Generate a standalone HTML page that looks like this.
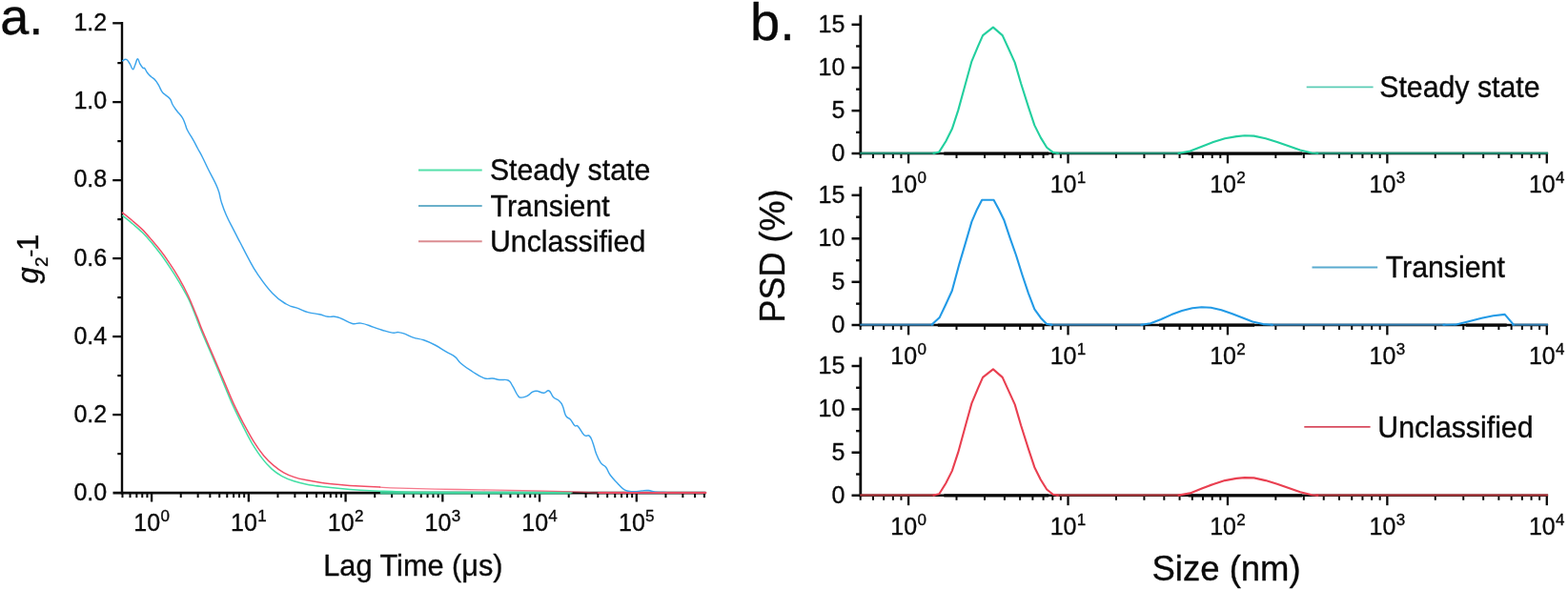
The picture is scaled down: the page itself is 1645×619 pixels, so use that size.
<!DOCTYPE html>
<html lang="en">
<head>
<meta charset="utf-8">
<title>DLS correlation and PSD</title>
<style>
html,body{margin:0;padding:0;background:#fff;}
body{width:1645px;height:619px;overflow:hidden;}
svg{display:block;}
</style>
</head>
<body>
<svg width="1645" height="619" viewBox="0 0 1645 619" font-family='"Liberation Sans", Arial, Helvetica, sans-serif' fill="#0a0a0a">
<style>text{stroke:#0a0a0a;stroke-width:0.35px;stroke-linejoin:round}</style>
<rect x="0" y="0" width="1645" height="619" fill="#ffffff"/>
<g id="panelA">
<line x1="128.00" y1="23.10" x2="128.00" y2="518.40" stroke="#0a0a0a" stroke-width="2.4" />
<line x1="118.50" y1="517.10" x2="740.50" y2="517.10" stroke="#0a0a0a" stroke-width="2.6" />
<text transform="translate(112.20,524.90) scale(1,1.04)" font-size="25.0" text-anchor="end" >0.0</text>
<line x1="123.30" y1="476.10" x2="128.00" y2="476.10" stroke="#0a0a0a" stroke-width="2.2" />
<line x1="118.20" y1="435.10" x2="128.00" y2="435.10" stroke="#0a0a0a" stroke-width="2.3" />
<text transform="translate(112.20,442.77) scale(1,1.04)" font-size="25.0" text-anchor="end" >0.2</text>
<line x1="123.30" y1="394.10" x2="128.00" y2="394.10" stroke="#0a0a0a" stroke-width="2.2" />
<line x1="118.20" y1="353.10" x2="128.00" y2="353.10" stroke="#0a0a0a" stroke-width="2.3" />
<text transform="translate(112.20,360.63) scale(1,1.04)" font-size="25.0" text-anchor="end" >0.4</text>
<line x1="123.30" y1="312.10" x2="128.00" y2="312.10" stroke="#0a0a0a" stroke-width="2.2" />
<line x1="118.20" y1="271.10" x2="128.00" y2="271.10" stroke="#0a0a0a" stroke-width="2.3" />
<text transform="translate(112.20,278.50) scale(1,1.04)" font-size="25.0" text-anchor="end" >0.6</text>
<line x1="123.30" y1="230.10" x2="128.00" y2="230.10" stroke="#0a0a0a" stroke-width="2.2" />
<line x1="118.20" y1="189.10" x2="128.00" y2="189.10" stroke="#0a0a0a" stroke-width="2.3" />
<text transform="translate(112.20,196.36) scale(1,1.04)" font-size="25.0" text-anchor="end" >0.8</text>
<line x1="123.30" y1="148.10" x2="128.00" y2="148.10" stroke="#0a0a0a" stroke-width="2.2" />
<line x1="118.20" y1="107.10" x2="128.00" y2="107.10" stroke="#0a0a0a" stroke-width="2.3" />
<text transform="translate(112.20,114.23) scale(1,1.04)" font-size="25.0" text-anchor="end" >1.0</text>
<line x1="123.30" y1="66.10" x2="128.00" y2="66.10" stroke="#0a0a0a" stroke-width="2.2" />
<line x1="118.20" y1="24.30" x2="128.00" y2="24.30" stroke="#0a0a0a" stroke-width="2.3" />
<text transform="translate(112.20,32.10) scale(1,1.04)" font-size="25.0" text-anchor="end" >1.2</text>
<line x1="128.47" y1="517.10" x2="128.47" y2="522.10" stroke="#0a0a0a" stroke-width="2.0" />
<line x1="136.53" y1="517.10" x2="136.53" y2="522.10" stroke="#0a0a0a" stroke-width="2.0" />
<line x1="143.34" y1="517.10" x2="143.34" y2="522.10" stroke="#0a0a0a" stroke-width="2.0" />
<line x1="149.24" y1="517.10" x2="149.24" y2="522.10" stroke="#0a0a0a" stroke-width="2.0" />
<line x1="154.44" y1="517.10" x2="154.44" y2="522.10" stroke="#0a0a0a" stroke-width="2.0" />
<line x1="159.10" y1="517.10" x2="159.10" y2="526.50" stroke="#0a0a0a" stroke-width="2.3" />
<text x="140.30" y="557.40" font-size="25.0">10<tspan font-size="17" dy="-10.0" dx="0.3">0</tspan></text>
<line x1="189.73" y1="517.10" x2="189.73" y2="522.10" stroke="#0a0a0a" stroke-width="2.0" />
<line x1="207.64" y1="517.10" x2="207.64" y2="522.10" stroke="#0a0a0a" stroke-width="2.0" />
<line x1="220.35" y1="517.10" x2="220.35" y2="522.10" stroke="#0a0a0a" stroke-width="2.0" />
<line x1="230.21" y1="517.10" x2="230.21" y2="522.10" stroke="#0a0a0a" stroke-width="2.0" />
<line x1="238.27" y1="517.10" x2="238.27" y2="522.10" stroke="#0a0a0a" stroke-width="2.0" />
<line x1="245.08" y1="517.10" x2="245.08" y2="522.10" stroke="#0a0a0a" stroke-width="2.0" />
<line x1="250.98" y1="517.10" x2="250.98" y2="522.10" stroke="#0a0a0a" stroke-width="2.0" />
<line x1="256.18" y1="517.10" x2="256.18" y2="522.10" stroke="#0a0a0a" stroke-width="2.0" />
<line x1="260.84" y1="517.10" x2="260.84" y2="526.50" stroke="#0a0a0a" stroke-width="2.3" />
<text x="242.04" y="557.40" font-size="25.0">10<tspan font-size="17" dy="-10.0" dx="0.3">1</tspan></text>
<line x1="291.47" y1="517.10" x2="291.47" y2="522.10" stroke="#0a0a0a" stroke-width="2.0" />
<line x1="309.38" y1="517.10" x2="309.38" y2="522.10" stroke="#0a0a0a" stroke-width="2.0" />
<line x1="322.09" y1="517.10" x2="322.09" y2="522.10" stroke="#0a0a0a" stroke-width="2.0" />
<line x1="331.95" y1="517.10" x2="331.95" y2="522.10" stroke="#0a0a0a" stroke-width="2.0" />
<line x1="340.01" y1="517.10" x2="340.01" y2="522.10" stroke="#0a0a0a" stroke-width="2.0" />
<line x1="346.82" y1="517.10" x2="346.82" y2="522.10" stroke="#0a0a0a" stroke-width="2.0" />
<line x1="352.72" y1="517.10" x2="352.72" y2="522.10" stroke="#0a0a0a" stroke-width="2.0" />
<line x1="357.92" y1="517.10" x2="357.92" y2="522.10" stroke="#0a0a0a" stroke-width="2.0" />
<line x1="362.58" y1="517.10" x2="362.58" y2="526.50" stroke="#0a0a0a" stroke-width="2.3" />
<text x="343.78" y="557.40" font-size="25.0">10<tspan font-size="17" dy="-10.0" dx="0.3">2</tspan></text>
<line x1="393.21" y1="517.10" x2="393.21" y2="522.10" stroke="#0a0a0a" stroke-width="2.0" />
<line x1="411.12" y1="517.10" x2="411.12" y2="522.10" stroke="#0a0a0a" stroke-width="2.0" />
<line x1="423.83" y1="517.10" x2="423.83" y2="522.10" stroke="#0a0a0a" stroke-width="2.0" />
<line x1="433.69" y1="517.10" x2="433.69" y2="522.10" stroke="#0a0a0a" stroke-width="2.0" />
<line x1="441.75" y1="517.10" x2="441.75" y2="522.10" stroke="#0a0a0a" stroke-width="2.0" />
<line x1="448.56" y1="517.10" x2="448.56" y2="522.10" stroke="#0a0a0a" stroke-width="2.0" />
<line x1="454.46" y1="517.10" x2="454.46" y2="522.10" stroke="#0a0a0a" stroke-width="2.0" />
<line x1="459.66" y1="517.10" x2="459.66" y2="522.10" stroke="#0a0a0a" stroke-width="2.0" />
<line x1="464.32" y1="517.10" x2="464.32" y2="526.50" stroke="#0a0a0a" stroke-width="2.3" />
<text x="445.52" y="557.40" font-size="25.0">10<tspan font-size="17" dy="-10.0" dx="0.3">3</tspan></text>
<line x1="494.95" y1="517.10" x2="494.95" y2="522.10" stroke="#0a0a0a" stroke-width="2.0" />
<line x1="512.86" y1="517.10" x2="512.86" y2="522.10" stroke="#0a0a0a" stroke-width="2.0" />
<line x1="525.57" y1="517.10" x2="525.57" y2="522.10" stroke="#0a0a0a" stroke-width="2.0" />
<line x1="535.43" y1="517.10" x2="535.43" y2="522.10" stroke="#0a0a0a" stroke-width="2.0" />
<line x1="543.49" y1="517.10" x2="543.49" y2="522.10" stroke="#0a0a0a" stroke-width="2.0" />
<line x1="550.30" y1="517.10" x2="550.30" y2="522.10" stroke="#0a0a0a" stroke-width="2.0" />
<line x1="556.20" y1="517.10" x2="556.20" y2="522.10" stroke="#0a0a0a" stroke-width="2.0" />
<line x1="561.40" y1="517.10" x2="561.40" y2="522.10" stroke="#0a0a0a" stroke-width="2.0" />
<line x1="566.06" y1="517.10" x2="566.06" y2="526.50" stroke="#0a0a0a" stroke-width="2.3" />
<text x="547.26" y="557.40" font-size="25.0">10<tspan font-size="17" dy="-10.0" dx="0.3">4</tspan></text>
<line x1="596.69" y1="517.10" x2="596.69" y2="522.10" stroke="#0a0a0a" stroke-width="2.0" />
<line x1="614.60" y1="517.10" x2="614.60" y2="522.10" stroke="#0a0a0a" stroke-width="2.0" />
<line x1="627.31" y1="517.10" x2="627.31" y2="522.10" stroke="#0a0a0a" stroke-width="2.0" />
<line x1="637.17" y1="517.10" x2="637.17" y2="522.10" stroke="#0a0a0a" stroke-width="2.0" />
<line x1="645.23" y1="517.10" x2="645.23" y2="522.10" stroke="#0a0a0a" stroke-width="2.0" />
<line x1="652.04" y1="517.10" x2="652.04" y2="522.10" stroke="#0a0a0a" stroke-width="2.0" />
<line x1="657.94" y1="517.10" x2="657.94" y2="522.10" stroke="#0a0a0a" stroke-width="2.0" />
<line x1="663.14" y1="517.10" x2="663.14" y2="522.10" stroke="#0a0a0a" stroke-width="2.0" />
<line x1="667.80" y1="517.10" x2="667.80" y2="526.50" stroke="#0a0a0a" stroke-width="2.3" />
<text x="649.00" y="557.40" font-size="25.0">10<tspan font-size="17" dy="-10.0" dx="0.3">5</tspan></text>
<line x1="698.43" y1="517.10" x2="698.43" y2="522.10" stroke="#0a0a0a" stroke-width="2.0" />
<line x1="716.34" y1="517.10" x2="716.34" y2="522.10" stroke="#0a0a0a" stroke-width="2.0" />
<line x1="729.05" y1="517.10" x2="729.05" y2="522.10" stroke="#0a0a0a" stroke-width="2.0" />
<line x1="738.91" y1="517.10" x2="738.91" y2="522.10" stroke="#0a0a0a" stroke-width="2.0" />
<text transform="translate(433.40,604.00) scale(1,1.02)" font-size="30.7" text-anchor="middle" >Lag Time (μs)</text>
<text transform="translate(40.3,297.9) rotate(-90)" font-size="31"><tspan x="0.5" y="0" font-style="italic">g</tspan><tspan x="17.8" y="9.9" font-size="19">2</tspan><tspan x="28.1" y="-1.8" font-size="24">-</tspan><tspan x="35.0" y="0">1</tspan></text>
<text x="0.20" y="36.40" font-size="54" text-anchor="start" >a.</text>
<polyline points="400.0,517.1 598.0,517.1" fill="none" stroke="#42dfa4" stroke-width="2.6" stroke-linejoin="round" stroke-linecap="round" stroke-linecap="butt" opacity="0.85"/>
<path d="M128.8,226.3C130.6,227.8 136.2,232.2 139.6,235.2C143.0,238.1 146.0,240.6 149.2,243.8C152.5,247.1 155.7,250.6 159.0,254.4C162.2,258.3 165.4,262.4 168.7,266.8C171.9,271.1 175.1,275.8 178.3,280.6C181.6,285.5 184.8,290.6 188.1,296.1C191.3,301.6 194.8,307.7 197.8,313.6C200.7,319.6 203.3,326.7 205.5,332.1C207.6,337.4 208.0,339.1 210.7,345.6C213.3,352.2 217.9,362.6 221.7,371.4C225.4,380.3 229.7,390.3 233.2,398.9C236.8,407.4 239.8,415.2 243.2,422.9C246.7,430.5 250.2,437.9 253.8,444.9C257.2,451.9 260.8,458.9 264.2,464.9C267.8,470.8 271.2,476.1 274.8,480.6C278.2,485.2 281.8,489.0 285.2,492.1C288.8,495.3 291.9,497.4 295.8,499.6C299.6,501.7 304.1,503.4 308.3,504.8C312.5,506.1 316.0,507.0 320.9,507.9C325.9,508.9 331.8,509.7 337.8,510.4C343.7,511.2 350.1,511.9 356.8,512.5C363.4,513.2 370.8,513.8 377.8,514.2C384.8,514.7 391.8,515.0 398.8,515.2C405.8,515.5 409.5,515.7 419.8,516.0C430.0,516.2 430.1,516.4 460.1,516.5C490.2,516.7 576.8,516.7 600.1,516.8" fill="none" stroke="#42dfa4" stroke-width="1.5" stroke-linejoin="round" stroke-linecap="round" />
<path d="M128.7,63.7C129.6,63.4 130.8,61.7 132.5,62.4C134.2,63.1 134.6,64.4 136.2,66.8C137.8,69.2 138.0,72.4 139.3,72.7C140.6,73.0 140.6,70.5 141.8,68.0C143.0,65.5 143.1,62.1 144.3,61.8C145.5,61.5 145.5,64.6 146.8,66.8C148.1,69.0 148.7,70.0 149.9,71.2C151.1,72.4 150.6,70.5 151.8,71.8C153.0,73.1 153.3,74.8 154.9,76.8C156.5,78.8 156.7,78.8 158.6,80.5C160.5,82.2 161.1,82.0 163.0,84.2C164.9,86.4 165.1,87.1 166.7,89.9C168.3,92.7 168.3,93.8 169.9,96.1C171.5,98.4 171.6,97.8 173.6,99.6C175.6,101.4 176.6,101.3 178.4,103.7C180.2,106.1 179.5,107.1 181.2,110.0C182.9,112.9 183.2,113.1 185.5,116.2C187.8,119.3 189.1,119.9 191.1,123.1C193.1,126.3 192.9,126.7 194.2,129.9C195.5,133.1 194.8,133.0 196.7,136.8C198.6,140.6 199.8,141.7 202.3,146.1C204.8,150.5 205.0,151.1 207.3,155.5C209.6,159.9 209.8,159.8 212.3,164.8C214.8,169.8 214.5,169.4 218.2,177.0C221.9,184.6 225.1,189.4 228.3,197.4C231.5,205.4 229.9,204.5 232.0,211.1C234.1,217.7 234.2,218.4 237.4,225.7C240.6,233.0 242.2,235.5 245.6,242.2C249.0,248.9 248.6,248.0 252.0,254.5C255.4,261.0 255.9,262.4 260.1,270.1C264.3,277.8 264.2,278.7 270.1,287.4C276.1,296.1 278.6,300.1 285.6,307.5C292.6,314.9 293.9,315.2 300.3,319.0C306.7,322.8 307.7,321.6 313.0,323.6C318.3,325.6 318.0,326.2 323.1,327.6C328.2,329.0 330.0,328.7 334.9,329.8C339.8,330.9 340.2,331.6 344.1,332.2C348.0,332.8 348.0,331.7 351.4,332.2C354.8,332.7 354.5,332.8 358.7,334.5C362.9,336.2 364.9,338.4 369.6,339.5C374.3,340.6 373.7,338.3 378.8,339.1C383.9,339.9 386.4,341.4 391.5,343.1C396.6,344.8 396.0,344.8 400.7,346.2C405.4,347.6 407.6,348.5 411.6,349.1C415.6,349.7 415.0,348.4 418.0,348.6C421.0,348.8 420.8,348.8 424.4,350.1C428.0,351.4 428.8,352.5 433.5,354.1C438.2,355.7 439.2,355.0 444.5,356.8C449.8,358.6 451.1,359.2 456.4,362.0C461.7,364.8 462.5,365.8 467.4,368.7C472.3,371.6 473.6,371.4 477.4,374.4C481.2,377.4 479.7,378.0 483.8,381.5C487.9,385.0 489.2,385.8 494.8,389.3C500.4,392.8 502.5,394.8 507.6,396.6C512.7,398.4 512.9,396.6 516.7,397.0C520.5,397.4 520.2,398.0 524.0,398.5C527.8,399.0 529.9,397.5 533.1,399.0C536.3,400.5 535.3,401.2 537.7,404.9C540.1,408.6 541.1,412.1 543.2,414.9C545.3,417.7 544.5,417.0 546.8,417.1C549.1,417.2 550.4,416.8 553.2,415.4C556.0,414.0 556.4,412.4 558.7,411.2C561.0,410.0 560.4,410.1 563.2,410.3C566.0,410.5 567.5,412.3 570.5,412.2C573.5,412.1 573.6,408.9 576.0,410.0C578.4,411.1 578.0,414.2 580.6,416.7C583.2,419.2 584.7,418.7 587.0,420.9C589.3,423.1 588.9,422.7 590.4,426.2C591.9,429.7 591.8,432.9 593.6,436.1C595.4,439.3 596.1,437.7 598.3,440.1C600.5,442.5 601.0,444.8 602.9,446.5C604.8,448.2 604.2,445.1 606.5,447.4C608.8,449.7 610.1,454.2 612.9,456.5C615.7,458.8 616.3,455.5 618.4,457.4C620.5,459.3 620.3,460.2 622.0,464.7C623.7,469.2 623.8,471.7 625.7,476.6C627.6,481.5 628.0,482.5 630.3,485.7C632.6,488.9 633.4,487.3 635.7,490.3C638.0,493.3 637.5,494.7 640.3,498.5C643.1,502.3 644.4,503.3 647.6,506.7C650.8,510.1 651.2,511.1 654.0,513.1C656.8,515.1 656.7,514.7 659.5,515.3C662.3,515.9 662.6,515.9 665.8,515.8C669.0,515.7 669.7,515.2 673.1,514.9C676.5,514.6 677.0,514.2 680.4,514.5C683.8,514.8 683.1,515.7 687.7,516.2C692.3,516.7 697.1,516.5 700.0,516.6" fill="none" stroke="#3aa4ec" stroke-width="1.45" stroke-linejoin="round" stroke-linecap="round" />
<path d="M128.5,223.1C130.3,224.5 135.8,228.8 139.2,231.8C142.7,234.7 145.7,237.2 148.9,240.4C152.2,243.7 155.4,247.4 158.7,251.2C161.9,254.9 165.1,258.6 168.3,262.8C171.6,266.9 174.8,271.5 178.0,276.4C181.3,281.2 184.5,286.2 187.8,291.9C191.0,297.5 194.3,303.5 197.4,310.2C200.6,317.0 204.3,326.6 206.8,332.6C209.2,338.5 209.3,339.6 212.0,346.1C214.8,352.7 219.3,363.1 223.0,371.9C226.8,380.8 231.1,390.8 234.8,399.4C238.4,407.9 241.6,415.9 245.0,423.4C248.5,430.9 252.0,437.7 255.5,444.4C259.1,451.0 262.6,457.6 266.1,463.2C269.6,468.9 273.1,473.8 276.6,477.9C280.1,482.1 283.6,485.5 287.1,488.4C290.6,491.4 294.1,493.9 297.6,495.9C301.1,497.9 304.2,499.1 308.1,500.4C311.9,501.8 315.8,502.7 320.7,503.6C325.6,504.6 331.5,505.6 337.5,506.4C343.4,507.2 349.8,507.8 356.5,508.4C363.1,509.1 370.5,509.7 377.5,510.1C384.5,510.6 395.0,511.0 398.5,511.1" fill="none" stroke="#f24e66" stroke-width="1.5" stroke-linejoin="round" stroke-linecap="round" />
<path d="M398.5,511.1C402.0,511.3 405.9,511.9 419.5,512.2C433.0,512.6 460.6,513.2 479.9,513.5C499.1,513.9 514.9,514.0 534.9,514.4C554.9,514.7 583.2,515.3 599.9,515.8C616.5,516.2 611.5,516.7 634.9,517.0C658.2,517.2 722.4,517.2 739.9,517.2" fill="none" stroke="#f24e66" stroke-width="1.3" stroke-linejoin="round" stroke-linecap="round" opacity="0.75"/>
<polyline points="628.0,517.0 740.5,517.0" fill="none" stroke="#f24e66" stroke-width="2.0" stroke-linejoin="round" stroke-linecap="round" stroke-linecap="butt" opacity="0.9"/>
<line x1="439.00" y1="178.60" x2="505.70" y2="178.60" stroke="#55e0aa" stroke-width="2.0" />
<text transform="translate(513.90,189.00) scale(1,1.055)" font-size="30.3" text-anchor="start" >Steady state</text>
<line x1="439.00" y1="216.10" x2="505.70" y2="216.10" stroke="#6ab0ca" stroke-width="2.0" />
<text transform="translate(514.60,226.50) scale(1,1.055)" font-size="30.3" text-anchor="start" >Transient</text>
<line x1="439.00" y1="253.20" x2="505.70" y2="253.20" stroke="#db8d92" stroke-width="2.0" />
<text transform="translate(514.00,263.60) scale(1,1.055)" font-size="30.3" text-anchor="start" >Unclassified</text>
</g>
<g id="panelB">
<text x="787.00" y="41.50" font-size="56" text-anchor="start" >b.</text>
<text transform="translate(823.4,268.4) rotate(-90)" font-size="36" text-anchor="middle">PSD (%)</text>
<text x="1286.60" y="608.50" font-size="36.5" text-anchor="middle" >Size (nm)</text>
<line x1="902.80" y1="15.80" x2="902.80" y2="162.50" stroke="#0a0a0a" stroke-width="2.8" />
<line x1="893.50" y1="161.00" x2="1624.08" y2="161.00" stroke="#0a0a0a" stroke-width="2.5" />
<text transform="translate(886.40,169.10) scale(1,1.05)" font-size="25.0" text-anchor="end" >0</text>
<line x1="898.10" y1="138.82" x2="902.80" y2="138.82" stroke="#0a0a0a" stroke-width="2.4" />
<line x1="893.50" y1="116.13" x2="902.80" y2="116.13" stroke="#0a0a0a" stroke-width="2.5" />
<text transform="translate(886.40,123.93) scale(1,1.05)" font-size="25.0" text-anchor="end" >5</text>
<line x1="898.10" y1="93.65" x2="902.80" y2="93.65" stroke="#0a0a0a" stroke-width="2.4" />
<line x1="893.50" y1="70.97" x2="902.80" y2="70.97" stroke="#0a0a0a" stroke-width="2.5" />
<text transform="translate(886.40,78.77) scale(1,1.05)" font-size="25.0" text-anchor="end" >10</text>
<line x1="898.10" y1="48.48" x2="902.80" y2="48.48" stroke="#0a0a0a" stroke-width="2.4" />
<line x1="893.50" y1="25.80" x2="902.80" y2="25.80" stroke="#0a0a0a" stroke-width="2.5" />
<text transform="translate(886.40,33.60) scale(1,1.05)" font-size="25.0" text-anchor="end" >15</text>
<line x1="902.70" y1="161.00" x2="902.70" y2="166.00" stroke="#0a0a0a" stroke-width="2.0" />
<line x1="915.96" y1="161.00" x2="915.96" y2="166.00" stroke="#0a0a0a" stroke-width="2.0" />
<line x1="927.17" y1="161.00" x2="927.17" y2="166.00" stroke="#0a0a0a" stroke-width="2.0" />
<line x1="936.88" y1="161.00" x2="936.88" y2="166.00" stroke="#0a0a0a" stroke-width="2.0" />
<line x1="945.44" y1="161.00" x2="945.44" y2="166.00" stroke="#0a0a0a" stroke-width="2.0" />
<line x1="953.10" y1="161.00" x2="953.10" y2="171.40" stroke="#0a0a0a" stroke-width="2.3" />
<text x="934.30" y="202.30" font-size="25.0">10<tspan font-size="17" dy="-10.0" dx="0.3">0</tspan></text>
<line x1="1003.50" y1="161.00" x2="1003.50" y2="166.00" stroke="#0a0a0a" stroke-width="2.0" />
<line x1="1032.98" y1="161.00" x2="1032.98" y2="166.00" stroke="#0a0a0a" stroke-width="2.0" />
<line x1="1053.90" y1="161.00" x2="1053.90" y2="166.00" stroke="#0a0a0a" stroke-width="2.0" />
<line x1="1070.12" y1="161.00" x2="1070.12" y2="166.00" stroke="#0a0a0a" stroke-width="2.0" />
<line x1="1083.38" y1="161.00" x2="1083.38" y2="166.00" stroke="#0a0a0a" stroke-width="2.0" />
<line x1="1094.59" y1="161.00" x2="1094.59" y2="166.00" stroke="#0a0a0a" stroke-width="2.0" />
<line x1="1104.30" y1="161.00" x2="1104.30" y2="166.00" stroke="#0a0a0a" stroke-width="2.0" />
<line x1="1112.86" y1="161.00" x2="1112.86" y2="166.00" stroke="#0a0a0a" stroke-width="2.0" />
<line x1="1120.52" y1="161.00" x2="1120.52" y2="171.40" stroke="#0a0a0a" stroke-width="2.3" />
<text x="1101.72" y="202.30" font-size="25.0">10<tspan font-size="17" dy="-10.0" dx="0.3">1</tspan></text>
<line x1="1170.92" y1="161.00" x2="1170.92" y2="166.00" stroke="#0a0a0a" stroke-width="2.0" />
<line x1="1200.40" y1="161.00" x2="1200.40" y2="166.00" stroke="#0a0a0a" stroke-width="2.0" />
<line x1="1221.32" y1="161.00" x2="1221.32" y2="166.00" stroke="#0a0a0a" stroke-width="2.0" />
<line x1="1237.54" y1="161.00" x2="1237.54" y2="166.00" stroke="#0a0a0a" stroke-width="2.0" />
<line x1="1250.80" y1="161.00" x2="1250.80" y2="166.00" stroke="#0a0a0a" stroke-width="2.0" />
<line x1="1262.01" y1="161.00" x2="1262.01" y2="166.00" stroke="#0a0a0a" stroke-width="2.0" />
<line x1="1271.72" y1="161.00" x2="1271.72" y2="166.00" stroke="#0a0a0a" stroke-width="2.0" />
<line x1="1280.28" y1="161.00" x2="1280.28" y2="166.00" stroke="#0a0a0a" stroke-width="2.0" />
<line x1="1287.94" y1="161.00" x2="1287.94" y2="171.40" stroke="#0a0a0a" stroke-width="2.3" />
<text x="1269.14" y="202.30" font-size="25.0">10<tspan font-size="17" dy="-10.0" dx="0.3">2</tspan></text>
<line x1="1338.34" y1="161.00" x2="1338.34" y2="166.00" stroke="#0a0a0a" stroke-width="2.0" />
<line x1="1367.82" y1="161.00" x2="1367.82" y2="166.00" stroke="#0a0a0a" stroke-width="2.0" />
<line x1="1388.74" y1="161.00" x2="1388.74" y2="166.00" stroke="#0a0a0a" stroke-width="2.0" />
<line x1="1404.96" y1="161.00" x2="1404.96" y2="166.00" stroke="#0a0a0a" stroke-width="2.0" />
<line x1="1418.22" y1="161.00" x2="1418.22" y2="166.00" stroke="#0a0a0a" stroke-width="2.0" />
<line x1="1429.43" y1="161.00" x2="1429.43" y2="166.00" stroke="#0a0a0a" stroke-width="2.0" />
<line x1="1439.14" y1="161.00" x2="1439.14" y2="166.00" stroke="#0a0a0a" stroke-width="2.0" />
<line x1="1447.70" y1="161.00" x2="1447.70" y2="166.00" stroke="#0a0a0a" stroke-width="2.0" />
<line x1="1455.36" y1="161.00" x2="1455.36" y2="171.40" stroke="#0a0a0a" stroke-width="2.3" />
<text x="1436.56" y="202.30" font-size="25.0">10<tspan font-size="17" dy="-10.0" dx="0.3">3</tspan></text>
<line x1="1505.76" y1="161.00" x2="1505.76" y2="166.00" stroke="#0a0a0a" stroke-width="2.0" />
<line x1="1535.24" y1="161.00" x2="1535.24" y2="166.00" stroke="#0a0a0a" stroke-width="2.0" />
<line x1="1556.16" y1="161.00" x2="1556.16" y2="166.00" stroke="#0a0a0a" stroke-width="2.0" />
<line x1="1572.38" y1="161.00" x2="1572.38" y2="166.00" stroke="#0a0a0a" stroke-width="2.0" />
<line x1="1585.64" y1="161.00" x2="1585.64" y2="166.00" stroke="#0a0a0a" stroke-width="2.0" />
<line x1="1596.85" y1="161.00" x2="1596.85" y2="166.00" stroke="#0a0a0a" stroke-width="2.0" />
<line x1="1606.56" y1="161.00" x2="1606.56" y2="166.00" stroke="#0a0a0a" stroke-width="2.0" />
<line x1="1615.12" y1="161.00" x2="1615.12" y2="166.00" stroke="#0a0a0a" stroke-width="2.0" />
<line x1="1622.78" y1="161.00" x2="1622.78" y2="171.40" stroke="#0a0a0a" stroke-width="2.3" />
<text x="1603.98" y="202.30" font-size="25.0">10<tspan font-size="17" dy="-10.0" dx="0.3">4</tspan></text>
<line x1="990.30" y1="161.10" x2="1100.20" y2="161.10" stroke="#0a0a0a" stroke-width="3.1" />
<line x1="1246.60" y1="161.10" x2="1366.10" y2="161.10" stroke="#0a0a0a" stroke-width="3.1" />
<line x1="902.30" y1="160.70" x2="981.40" y2="160.70" stroke="#1f816a" stroke-width="2.0" />
<line x1="902.30" y1="160.20" x2="981.40" y2="160.20" stroke="#22cf9e" stroke-width="0.9" opacity="0.45"/>
<line x1="1107.90" y1="160.70" x2="1238.50" y2="160.70" stroke="#1f816a" stroke-width="2.0" />
<line x1="1107.90" y1="160.20" x2="1238.50" y2="160.20" stroke="#22cf9e" stroke-width="0.9" opacity="0.45"/>
<line x1="1380.40" y1="160.70" x2="1624.08" y2="160.70" stroke="#1f816a" stroke-width="2.0" />
<line x1="1380.40" y1="160.20" x2="1624.08" y2="160.20" stroke="#22cf9e" stroke-width="0.9" opacity="0.45"/>
<polyline points="979.4,160.8 985.3,159.4 992.3,148.2 998.8,135.3 1005.2,115.9 1013.0,87.5 1019.4,64.3 1025.9,48.8 1031.1,37.1 1041.9,28.6 1051.7,37.1 1058.2,51.3 1064.7,65.6 1071.1,87.5 1078.9,112.1 1085.3,131.4 1091.8,144.4 1098.2,154.7 1104.7,159.9 1109.9,160.8" fill="none" stroke="#22cf9e" stroke-width="2.1" stroke-linejoin="round" stroke-linecap="round" stroke-linecap="butt"/>
<polyline points="1236.5,160.8 1248.6,158.6 1260.8,153.8 1272.9,149.1 1285.1,145.3 1297.3,143.1 1305.8,142.3 1315.5,142.6 1327.7,145.3 1339.8,148.9 1352.0,153.2 1364.1,157.4 1376.3,160.5 1382.4,160.8" fill="none" stroke="#22cf9e" stroke-width="2.1" stroke-linejoin="round" stroke-linecap="round" stroke-linecap="butt"/>
<line x1="1370.70" y1="91.40" x2="1440.60" y2="91.40" stroke="#5ccdb6" stroke-width="1.8" />
<text transform="translate(1447.20,101.90) scale(1,1.055)" font-size="30.3" text-anchor="start" >Steady state</text>
<line x1="902.80" y1="195.80" x2="902.80" y2="342.50" stroke="#0a0a0a" stroke-width="2.8" />
<line x1="893.50" y1="341.00" x2="1624.08" y2="341.00" stroke="#0a0a0a" stroke-width="2.5" />
<text transform="translate(886.40,349.10) scale(1,1.05)" font-size="25.0" text-anchor="end" >0</text>
<line x1="898.10" y1="318.65" x2="902.80" y2="318.65" stroke="#0a0a0a" stroke-width="2.4" />
<line x1="893.50" y1="295.80" x2="902.80" y2="295.80" stroke="#0a0a0a" stroke-width="2.5" />
<text transform="translate(886.40,303.60) scale(1,1.05)" font-size="25.0" text-anchor="end" >5</text>
<line x1="898.10" y1="273.15" x2="902.80" y2="273.15" stroke="#0a0a0a" stroke-width="2.4" />
<line x1="893.50" y1="250.30" x2="902.80" y2="250.30" stroke="#0a0a0a" stroke-width="2.5" />
<text transform="translate(886.40,258.10) scale(1,1.05)" font-size="25.0" text-anchor="end" >10</text>
<line x1="898.10" y1="227.65" x2="902.80" y2="227.65" stroke="#0a0a0a" stroke-width="2.4" />
<line x1="893.50" y1="204.80" x2="902.80" y2="204.80" stroke="#0a0a0a" stroke-width="2.5" />
<text transform="translate(886.40,212.60) scale(1,1.05)" font-size="25.0" text-anchor="end" >15</text>
<line x1="902.70" y1="341.00" x2="902.70" y2="346.00" stroke="#0a0a0a" stroke-width="2.0" />
<line x1="915.96" y1="341.00" x2="915.96" y2="346.00" stroke="#0a0a0a" stroke-width="2.0" />
<line x1="927.17" y1="341.00" x2="927.17" y2="346.00" stroke="#0a0a0a" stroke-width="2.0" />
<line x1="936.88" y1="341.00" x2="936.88" y2="346.00" stroke="#0a0a0a" stroke-width="2.0" />
<line x1="945.44" y1="341.00" x2="945.44" y2="346.00" stroke="#0a0a0a" stroke-width="2.0" />
<line x1="953.10" y1="341.00" x2="953.10" y2="351.40" stroke="#0a0a0a" stroke-width="2.3" />
<text x="934.30" y="382.30" font-size="25.0">10<tspan font-size="17" dy="-10.0" dx="0.3">0</tspan></text>
<line x1="1003.50" y1="341.00" x2="1003.50" y2="346.00" stroke="#0a0a0a" stroke-width="2.0" />
<line x1="1032.98" y1="341.00" x2="1032.98" y2="346.00" stroke="#0a0a0a" stroke-width="2.0" />
<line x1="1053.90" y1="341.00" x2="1053.90" y2="346.00" stroke="#0a0a0a" stroke-width="2.0" />
<line x1="1070.12" y1="341.00" x2="1070.12" y2="346.00" stroke="#0a0a0a" stroke-width="2.0" />
<line x1="1083.38" y1="341.00" x2="1083.38" y2="346.00" stroke="#0a0a0a" stroke-width="2.0" />
<line x1="1094.59" y1="341.00" x2="1094.59" y2="346.00" stroke="#0a0a0a" stroke-width="2.0" />
<line x1="1104.30" y1="341.00" x2="1104.30" y2="346.00" stroke="#0a0a0a" stroke-width="2.0" />
<line x1="1112.86" y1="341.00" x2="1112.86" y2="346.00" stroke="#0a0a0a" stroke-width="2.0" />
<line x1="1120.52" y1="341.00" x2="1120.52" y2="351.40" stroke="#0a0a0a" stroke-width="2.3" />
<text x="1101.72" y="382.30" font-size="25.0">10<tspan font-size="17" dy="-10.0" dx="0.3">1</tspan></text>
<line x1="1170.92" y1="341.00" x2="1170.92" y2="346.00" stroke="#0a0a0a" stroke-width="2.0" />
<line x1="1200.40" y1="341.00" x2="1200.40" y2="346.00" stroke="#0a0a0a" stroke-width="2.0" />
<line x1="1221.32" y1="341.00" x2="1221.32" y2="346.00" stroke="#0a0a0a" stroke-width="2.0" />
<line x1="1237.54" y1="341.00" x2="1237.54" y2="346.00" stroke="#0a0a0a" stroke-width="2.0" />
<line x1="1250.80" y1="341.00" x2="1250.80" y2="346.00" stroke="#0a0a0a" stroke-width="2.0" />
<line x1="1262.01" y1="341.00" x2="1262.01" y2="346.00" stroke="#0a0a0a" stroke-width="2.0" />
<line x1="1271.72" y1="341.00" x2="1271.72" y2="346.00" stroke="#0a0a0a" stroke-width="2.0" />
<line x1="1280.28" y1="341.00" x2="1280.28" y2="346.00" stroke="#0a0a0a" stroke-width="2.0" />
<line x1="1287.94" y1="341.00" x2="1287.94" y2="351.40" stroke="#0a0a0a" stroke-width="2.3" />
<text x="1269.14" y="382.30" font-size="25.0">10<tspan font-size="17" dy="-10.0" dx="0.3">2</tspan></text>
<line x1="1338.34" y1="341.00" x2="1338.34" y2="346.00" stroke="#0a0a0a" stroke-width="2.0" />
<line x1="1367.82" y1="341.00" x2="1367.82" y2="346.00" stroke="#0a0a0a" stroke-width="2.0" />
<line x1="1388.74" y1="341.00" x2="1388.74" y2="346.00" stroke="#0a0a0a" stroke-width="2.0" />
<line x1="1404.96" y1="341.00" x2="1404.96" y2="346.00" stroke="#0a0a0a" stroke-width="2.0" />
<line x1="1418.22" y1="341.00" x2="1418.22" y2="346.00" stroke="#0a0a0a" stroke-width="2.0" />
<line x1="1429.43" y1="341.00" x2="1429.43" y2="346.00" stroke="#0a0a0a" stroke-width="2.0" />
<line x1="1439.14" y1="341.00" x2="1439.14" y2="346.00" stroke="#0a0a0a" stroke-width="2.0" />
<line x1="1447.70" y1="341.00" x2="1447.70" y2="346.00" stroke="#0a0a0a" stroke-width="2.0" />
<line x1="1455.36" y1="341.00" x2="1455.36" y2="351.40" stroke="#0a0a0a" stroke-width="2.3" />
<text x="1436.56" y="382.30" font-size="25.0">10<tspan font-size="17" dy="-10.0" dx="0.3">3</tspan></text>
<line x1="1505.76" y1="341.00" x2="1505.76" y2="346.00" stroke="#0a0a0a" stroke-width="2.0" />
<line x1="1535.24" y1="341.00" x2="1535.24" y2="346.00" stroke="#0a0a0a" stroke-width="2.0" />
<line x1="1556.16" y1="341.00" x2="1556.16" y2="346.00" stroke="#0a0a0a" stroke-width="2.0" />
<line x1="1572.38" y1="341.00" x2="1572.38" y2="346.00" stroke="#0a0a0a" stroke-width="2.0" />
<line x1="1585.64" y1="341.00" x2="1585.64" y2="346.00" stroke="#0a0a0a" stroke-width="2.0" />
<line x1="1596.85" y1="341.00" x2="1596.85" y2="346.00" stroke="#0a0a0a" stroke-width="2.0" />
<line x1="1606.56" y1="341.00" x2="1606.56" y2="346.00" stroke="#0a0a0a" stroke-width="2.0" />
<line x1="1615.12" y1="341.00" x2="1615.12" y2="346.00" stroke="#0a0a0a" stroke-width="2.0" />
<line x1="1622.78" y1="341.00" x2="1622.78" y2="351.40" stroke="#0a0a0a" stroke-width="2.3" />
<text x="1603.98" y="382.30" font-size="25.0">10<tspan font-size="17" dy="-10.0" dx="0.3">4</tspan></text>
<line x1="983.80" y1="341.10" x2="1093.80" y2="341.10" stroke="#0a0a0a" stroke-width="3.1" />
<line x1="1216.10" y1="341.10" x2="1316.10" y2="341.10" stroke="#0a0a0a" stroke-width="3.1" />
<line x1="1537.80" y1="341.10" x2="1580.70" y2="341.10" stroke="#0a0a0a" stroke-width="3.1" />
<line x1="902.30" y1="340.70" x2="979.60" y2="340.70" stroke="#33729e" stroke-width="2.0" />
<line x1="902.30" y1="340.20" x2="979.60" y2="340.20" stroke="#229ae6" stroke-width="0.9" opacity="0.45"/>
<line x1="1101.40" y1="340.70" x2="1199.40" y2="340.70" stroke="#33729e" stroke-width="2.0" />
<line x1="1101.40" y1="340.20" x2="1199.40" y2="340.20" stroke="#229ae6" stroke-width="0.9" opacity="0.45"/>
<line x1="1332.80" y1="340.70" x2="1516.30" y2="340.70" stroke="#33729e" stroke-width="2.0" />
<line x1="1332.80" y1="340.20" x2="1516.30" y2="340.20" stroke="#229ae6" stroke-width="0.9" opacity="0.45"/>
<line x1="1585.90" y1="340.70" x2="1624.08" y2="340.70" stroke="#33729e" stroke-width="2.0" />
<line x1="1585.90" y1="340.20" x2="1624.08" y2="340.20" stroke="#229ae6" stroke-width="0.9" opacity="0.45"/>
<polyline points="977.6,340.6 985.8,332.9 992.3,319.2 998.8,305.0 1006.5,276.6 1013.0,254.6 1019.4,232.6 1025.0,219.7 1030.2,209.8 1042.5,209.8 1047.9,219.7 1053.5,231.3 1059.5,249.4 1065.9,267.5 1072.4,288.2 1078.9,307.6 1085.3,324.4 1091.8,333.4 1098.2,339.9 1103.4,340.8" fill="none" stroke="#229ae6" stroke-width="2.1" stroke-linejoin="round" stroke-linecap="round" stroke-linecap="butt"/>
<polyline points="1197.4,340.8 1207.1,339.2 1218.1,335.0 1229.0,330.1 1240.0,325.9 1250.9,323.2 1260.6,322.2 1270.4,322.8 1281.3,325.3 1292.2,328.9 1303.2,333.2 1314.1,337.4 1325.1,340.1 1334.8,340.8" fill="none" stroke="#229ae6" stroke-width="2.1" stroke-linejoin="round" stroke-linecap="round" stroke-linecap="butt"/>
<polyline points="1514.3,340.8 1527.7,340.5 1539.8,337.4 1554.4,333.8 1566.6,331.3 1578.7,329.9 1587.9,340.6" fill="none" stroke="#229ae6" stroke-width="2.1" stroke-linejoin="round" stroke-linecap="round" stroke-linecap="butt"/>
<line x1="1376.50" y1="280.50" x2="1445.20" y2="280.50" stroke="#5aabcf" stroke-width="1.8" />
<text transform="translate(1453.70,291.10) scale(1,1.055)" font-size="30.3" text-anchor="start" >Transient</text>
<line x1="902.80" y1="374.60" x2="902.80" y2="521.30" stroke="#0a0a0a" stroke-width="2.8" />
<line x1="893.50" y1="519.80" x2="1624.08" y2="519.80" stroke="#0a0a0a" stroke-width="2.5" />
<text transform="translate(886.40,527.90) scale(1,1.05)" font-size="25.0" text-anchor="end" >0</text>
<line x1="898.10" y1="497.52" x2="902.80" y2="497.52" stroke="#0a0a0a" stroke-width="2.4" />
<line x1="893.50" y1="474.73" x2="902.80" y2="474.73" stroke="#0a0a0a" stroke-width="2.5" />
<text transform="translate(886.40,482.53) scale(1,1.05)" font-size="25.0" text-anchor="end" >5</text>
<line x1="898.10" y1="452.15" x2="902.80" y2="452.15" stroke="#0a0a0a" stroke-width="2.4" />
<line x1="893.50" y1="429.37" x2="902.80" y2="429.37" stroke="#0a0a0a" stroke-width="2.5" />
<text transform="translate(886.40,437.17) scale(1,1.05)" font-size="25.0" text-anchor="end" >10</text>
<line x1="898.10" y1="406.78" x2="902.80" y2="406.78" stroke="#0a0a0a" stroke-width="2.4" />
<line x1="893.50" y1="384.00" x2="902.80" y2="384.00" stroke="#0a0a0a" stroke-width="2.5" />
<text transform="translate(886.40,391.80) scale(1,1.05)" font-size="25.0" text-anchor="end" >15</text>
<line x1="902.70" y1="519.80" x2="902.70" y2="524.80" stroke="#0a0a0a" stroke-width="2.0" />
<line x1="915.96" y1="519.80" x2="915.96" y2="524.80" stroke="#0a0a0a" stroke-width="2.0" />
<line x1="927.17" y1="519.80" x2="927.17" y2="524.80" stroke="#0a0a0a" stroke-width="2.0" />
<line x1="936.88" y1="519.80" x2="936.88" y2="524.80" stroke="#0a0a0a" stroke-width="2.0" />
<line x1="945.44" y1="519.80" x2="945.44" y2="524.80" stroke="#0a0a0a" stroke-width="2.0" />
<line x1="953.10" y1="519.80" x2="953.10" y2="530.20" stroke="#0a0a0a" stroke-width="2.3" />
<text x="934.30" y="561.10" font-size="25.0">10<tspan font-size="17" dy="-10.0" dx="0.3">0</tspan></text>
<line x1="1003.50" y1="519.80" x2="1003.50" y2="524.80" stroke="#0a0a0a" stroke-width="2.0" />
<line x1="1032.98" y1="519.80" x2="1032.98" y2="524.80" stroke="#0a0a0a" stroke-width="2.0" />
<line x1="1053.90" y1="519.80" x2="1053.90" y2="524.80" stroke="#0a0a0a" stroke-width="2.0" />
<line x1="1070.12" y1="519.80" x2="1070.12" y2="524.80" stroke="#0a0a0a" stroke-width="2.0" />
<line x1="1083.38" y1="519.80" x2="1083.38" y2="524.80" stroke="#0a0a0a" stroke-width="2.0" />
<line x1="1094.59" y1="519.80" x2="1094.59" y2="524.80" stroke="#0a0a0a" stroke-width="2.0" />
<line x1="1104.30" y1="519.80" x2="1104.30" y2="524.80" stroke="#0a0a0a" stroke-width="2.0" />
<line x1="1112.86" y1="519.80" x2="1112.86" y2="524.80" stroke="#0a0a0a" stroke-width="2.0" />
<line x1="1120.52" y1="519.80" x2="1120.52" y2="530.20" stroke="#0a0a0a" stroke-width="2.3" />
<text x="1101.72" y="561.10" font-size="25.0">10<tspan font-size="17" dy="-10.0" dx="0.3">1</tspan></text>
<line x1="1170.92" y1="519.80" x2="1170.92" y2="524.80" stroke="#0a0a0a" stroke-width="2.0" />
<line x1="1200.40" y1="519.80" x2="1200.40" y2="524.80" stroke="#0a0a0a" stroke-width="2.0" />
<line x1="1221.32" y1="519.80" x2="1221.32" y2="524.80" stroke="#0a0a0a" stroke-width="2.0" />
<line x1="1237.54" y1="519.80" x2="1237.54" y2="524.80" stroke="#0a0a0a" stroke-width="2.0" />
<line x1="1250.80" y1="519.80" x2="1250.80" y2="524.80" stroke="#0a0a0a" stroke-width="2.0" />
<line x1="1262.01" y1="519.80" x2="1262.01" y2="524.80" stroke="#0a0a0a" stroke-width="2.0" />
<line x1="1271.72" y1="519.80" x2="1271.72" y2="524.80" stroke="#0a0a0a" stroke-width="2.0" />
<line x1="1280.28" y1="519.80" x2="1280.28" y2="524.80" stroke="#0a0a0a" stroke-width="2.0" />
<line x1="1287.94" y1="519.80" x2="1287.94" y2="530.20" stroke="#0a0a0a" stroke-width="2.3" />
<text x="1269.14" y="561.10" font-size="25.0">10<tspan font-size="17" dy="-10.0" dx="0.3">2</tspan></text>
<line x1="1338.34" y1="519.80" x2="1338.34" y2="524.80" stroke="#0a0a0a" stroke-width="2.0" />
<line x1="1367.82" y1="519.80" x2="1367.82" y2="524.80" stroke="#0a0a0a" stroke-width="2.0" />
<line x1="1388.74" y1="519.80" x2="1388.74" y2="524.80" stroke="#0a0a0a" stroke-width="2.0" />
<line x1="1404.96" y1="519.80" x2="1404.96" y2="524.80" stroke="#0a0a0a" stroke-width="2.0" />
<line x1="1418.22" y1="519.80" x2="1418.22" y2="524.80" stroke="#0a0a0a" stroke-width="2.0" />
<line x1="1429.43" y1="519.80" x2="1429.43" y2="524.80" stroke="#0a0a0a" stroke-width="2.0" />
<line x1="1439.14" y1="519.80" x2="1439.14" y2="524.80" stroke="#0a0a0a" stroke-width="2.0" />
<line x1="1447.70" y1="519.80" x2="1447.70" y2="524.80" stroke="#0a0a0a" stroke-width="2.0" />
<line x1="1455.36" y1="519.80" x2="1455.36" y2="530.20" stroke="#0a0a0a" stroke-width="2.3" />
<text x="1436.56" y="561.10" font-size="25.0">10<tspan font-size="17" dy="-10.0" dx="0.3">3</tspan></text>
<line x1="1505.76" y1="519.80" x2="1505.76" y2="524.80" stroke="#0a0a0a" stroke-width="2.0" />
<line x1="1535.24" y1="519.80" x2="1535.24" y2="524.80" stroke="#0a0a0a" stroke-width="2.0" />
<line x1="1556.16" y1="519.80" x2="1556.16" y2="524.80" stroke="#0a0a0a" stroke-width="2.0" />
<line x1="1572.38" y1="519.80" x2="1572.38" y2="524.80" stroke="#0a0a0a" stroke-width="2.0" />
<line x1="1585.64" y1="519.80" x2="1585.64" y2="524.80" stroke="#0a0a0a" stroke-width="2.0" />
<line x1="1596.85" y1="519.80" x2="1596.85" y2="524.80" stroke="#0a0a0a" stroke-width="2.0" />
<line x1="1606.56" y1="519.80" x2="1606.56" y2="524.80" stroke="#0a0a0a" stroke-width="2.0" />
<line x1="1615.12" y1="519.80" x2="1615.12" y2="524.80" stroke="#0a0a0a" stroke-width="2.0" />
<line x1="1622.78" y1="519.80" x2="1622.78" y2="530.20" stroke="#0a0a0a" stroke-width="2.3" />
<text x="1603.98" y="561.10" font-size="25.0">10<tspan font-size="17" dy="-10.0" dx="0.3">4</tspan></text>
<line x1="990.30" y1="519.90" x2="1100.20" y2="519.90" stroke="#0a0a0a" stroke-width="3.1" />
<line x1="1246.60" y1="519.90" x2="1366.10" y2="519.90" stroke="#0a0a0a" stroke-width="3.1" />
<line x1="902.30" y1="519.50" x2="981.40" y2="519.50" stroke="#a5383a" stroke-width="2.0" />
<line x1="902.30" y1="519.00" x2="981.40" y2="519.00" stroke="#e93f50" stroke-width="0.9" opacity="0.45"/>
<line x1="1107.90" y1="519.50" x2="1238.50" y2="519.50" stroke="#a5383a" stroke-width="2.0" />
<line x1="1107.90" y1="519.00" x2="1238.50" y2="519.00" stroke="#e93f50" stroke-width="0.9" opacity="0.45"/>
<line x1="1380.40" y1="519.50" x2="1624.08" y2="519.50" stroke="#a5383a" stroke-width="2.0" />
<line x1="1380.40" y1="519.00" x2="1624.08" y2="519.00" stroke="#e93f50" stroke-width="0.9" opacity="0.45"/>
<polyline points="979.4,519.6 985.3,518.2 992.3,507.0 998.8,494.1 1005.2,474.7 1013.0,446.3 1019.4,423.1 1025.9,407.6 1031.1,395.9 1041.9,387.4 1051.7,395.9 1058.2,410.1 1064.7,424.4 1071.1,446.3 1078.9,470.9 1085.3,490.2 1091.8,503.2 1098.2,513.5 1104.7,518.7 1109.9,519.6" fill="none" stroke="#e93f50" stroke-width="2.1" stroke-linejoin="round" stroke-linecap="round" stroke-linecap="butt"/>
<polyline points="1236.5,519.6 1248.6,517.4 1260.8,512.6 1272.9,507.9 1285.1,504.1 1297.3,501.9 1305.8,501.1 1315.5,501.4 1327.7,504.1 1339.8,507.7 1352.0,512.0 1364.1,516.2 1376.3,519.3 1382.4,519.6" fill="none" stroke="#e93f50" stroke-width="2.1" stroke-linejoin="round" stroke-linecap="round" stroke-linecap="butt"/>
<line x1="1368.30" y1="447.80" x2="1437.60" y2="447.80" stroke="#d84c5f" stroke-width="1.8" />
<text transform="translate(1445.30,458.50) scale(1,1.055)" font-size="30.3" text-anchor="start" >Unclassified</text>
</g>
</svg>
</body>
</html>
